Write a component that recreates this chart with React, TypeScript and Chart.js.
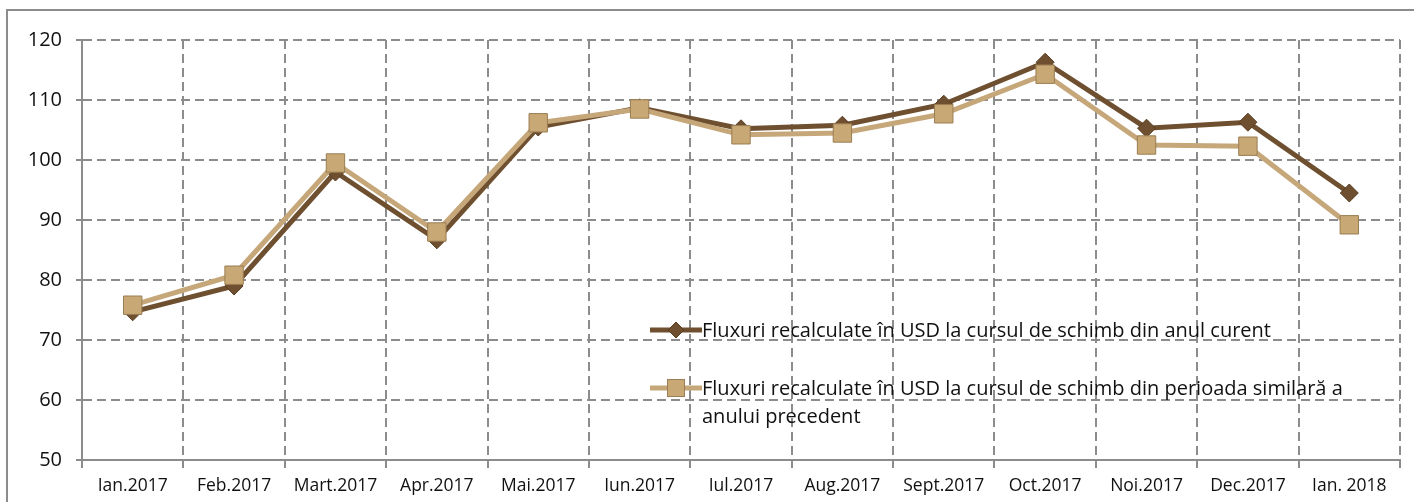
import React, { useEffect, useRef } from "react";
import { Chart, registerables } from "chart.js";

Chart.register(...registerables);

const categories = [
  "Ian.2017", "Feb.2017", "Mart.2017", "Apr.2017", "Mai.2017", "Iun.2017", "Iul.2017",
  "Aug.2017", "Sept.2017", "Oct.2017", "Noi.2017", "Dec.2017", "Ian. 2018",
];
const currentRate = [74.7, 79.0, 98.0, 86.7, 105.5, 108.7, 105.2, 105.8, 109.3, 116.3, 105.3, 106.3, 94.5];
const previousRate = [75.8, 80.8, 99.5, 88.0, 106.2, 108.5, 104.2, 104.5, 107.7, 114.3, 102.5, 102.3, 89.2];
const legendLabels = [
  "Fluxuri recalculate în USD la cursul de schimb din anul curent",
  "Fluxuri recalculate în USD la cursul de schimb din perioada similară a anului precedent",
];

const DARK = "#6e4f2f";
const LIGHT = "#c6a77a";
const GRID = "#8c8c8c";
const FONT = "'Open Sans', Lato, sans-serif";

export default function App() {
  const ref = useRef<HTMLCanvasElement | null>(null);

  useEffect(() => {
    document.body.style.margin = "0";
    const ctx = ref.current!.getContext("2d")!;
    const chart = new Chart(ctx, {
      type: "line",
      data: {
        labels: categories,
        datasets: [
          {
            label: legendLabels[1],
            data: previousRate,
            borderColor: LIGHT,
            borderWidth: 5,
            backgroundColor: "#c8a874",
            pointStyle: "rect",
            pointRadius: 13,
            pointBorderColor: "#9a7d52",
            pointBorderWidth: 1,
            pointBackgroundColor: "#c8a874",
            tension: 0,
          },
          {
            label: legendLabels[0],
            data: currentRate,
            borderColor: DARK,
            borderWidth: 5,
            backgroundColor: DARK,
            pointStyle: "rectRot",
            pointRadius: 9,
            pointBorderColor: "#5a3e22",
            pointBorderWidth: 1,
            pointBackgroundColor: DARK,
            tension: 0,
          },
        ],
      },
      options: {
        animation: false,
        responsive: false,
        maintainAspectRatio: false,
        layout: { padding: { left: 0, right: 12, top: 40, bottom: 0 } },
        plugins: { legend: { display: false }, tooltip: { enabled: false } },
        scales: {
          x: {
            offset: true,
            grid: {
              offset: true,
              color: GRID,
              lineWidth: 2,
              drawTicks: true,
              tickLength: 8,
              tickColor: GRID,
              tickBorderDash: [],
            },
            border: { display: true, color: GRID, width: 2, dash: [9, 5] },
            ticks: {
              color: "#111",
              font: { family: FONT, size: 17.5 },
              padding: 8,
              maxRotation: 0,
              autoSkip: false,
            },
            afterFit: (s: any) => { s.height = 42; },
          },
          y: {
            min: 50,
            max: 120,
            grid: {
              color: GRID,
              lineWidth: 2,
              drawTicks: true,
              tickLength: 6,
              tickColor: GRID,
              tickBorderDash: [],
            },
            border: { display: true, color: GRID, width: 2, dash: [9, 5] },
            ticks: {
              stepSize: 10,
              color: "#111",
              font: { family: FONT, size: 20 },
              padding: 14,
            },
            afterFit: (s: any) => { s.width = 82; },
          },
        },
      },
    });
    return () => chart.destroy();
  }, []);

  const legendItem = (i: number, top: number) => (
    <div style={{ position: "absolute", left: 650, top, display: "flex", alignItems: "flex-start" }}>
      <svg width="52" height="24" style={{ flex: "none", marginTop: 0 }}>
        <line x1="0" y1="12" x2="52" y2="12" stroke={i === 0 ? DARK : LIGHT} strokeWidth="5" />
        {i === 0 ? (
          <polygon points="26,4 34,12 26,20 18,12" fill={DARK} stroke="#5a3e22" strokeWidth="1" />
        ) : (
          <rect x="17.5" y="3.5" width="17" height="17" fill="#c8a874" stroke="#9a7d52" strokeWidth="1" />
        )}
      </svg>
      <div
        style={{
          fontFamily: FONT,
          fontSize: 20,
          lineHeight: "28px",
          color: "#111",
          width: 660,
          marginTop: -2,
        }}
      >
        {legendLabels[i]}
      </div>
    </div>
  );

  return (
    <div style={{ position: "relative", width: 1414, height: 502, background: "#fff", overflow: "hidden" }}>
      <div
        style={{
          position: "absolute",
          left: 6,
          top: 9,
          width: 1420,
          height: 500,
          borderTop: "2px solid #8c8c8c",
          borderLeft: "2px solid #8c8c8c",
        }}
      />
      <canvas ref={ref} width={1414} height={502} style={{ position: "absolute", left: 0, top: 0 }} />
      {legendItem(0, 318)}
      {legendItem(1, 376)}
    </div>
  );
}
